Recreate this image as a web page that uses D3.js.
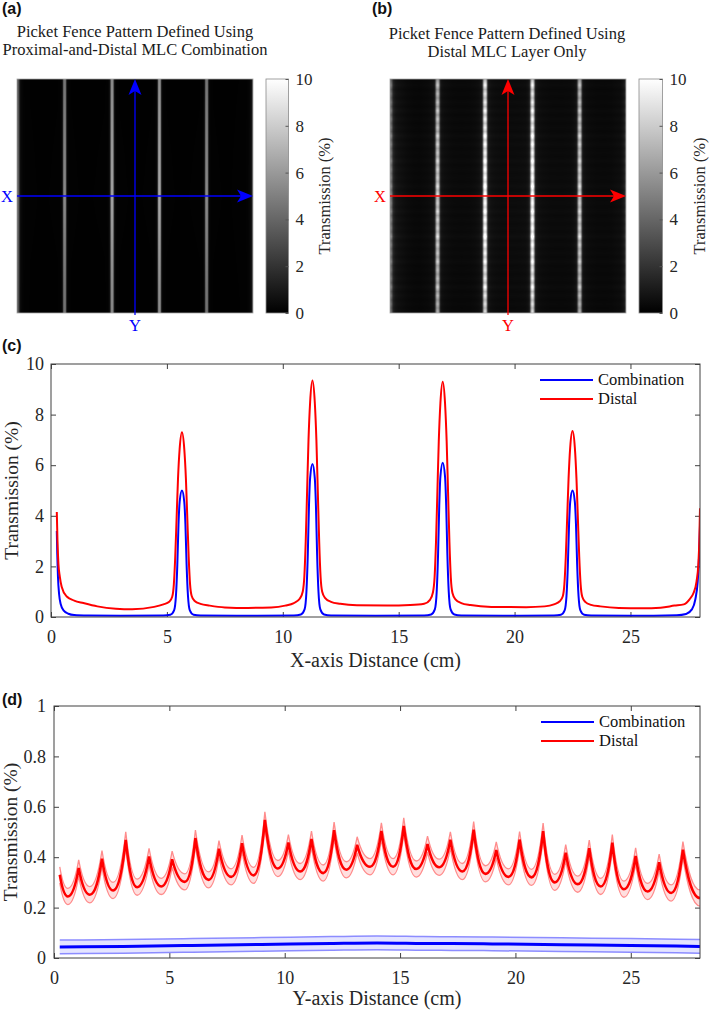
<!DOCTYPE html>
<html><head><meta charset="utf-8">
<script src="https://cdn.jsdelivr.net/npm/d3@7"></script>
<style>
body{margin:0;background:#fff}
svg{display:block}
svg text{font-family:"Liberation Serif","Times New Roman",serif}
svg text.bold{font-family:"Liberation Sans",Arial,sans-serif;font-weight:bold}
</style>
</head><body>
<svg id="chart" width="709" height="1012"></svg>
<script>
// ---------------- DATA ----------------
// (c) X-axis profiles (cm, transmission %)
const combXcm = [0.25,0.27,0.3,0.35,0.42,0.55,0.75,1.0,1.6,3,4.85,
 5.15,5.31,5.39,5.45,5.5,5.55,5.65,5.75,5.8,5.85,5.91,5.99,6.15,6.45,8,10.48,
 10.78,10.94,11.02,11.08,11.13,11.18,11.28,11.38,11.43,11.48,11.54,11.62,11.78,12.08,14,16.1,
 16.4,16.56,16.64,16.7,16.75,16.8,16.9,17.0,17.05,17.1,17.16,17.24,17.4,17.7,19.5,21.7,
 22.0,22.16,22.24,22.3,22.35,22.4,22.5,22.6,22.65,22.7,22.76,22.84,23.0,23.3,25,27.0,27.4,27.65,27.8,27.9,27.96,28.0];
const combXval = [3.4,2.5,1.6,0.9,0.5,0.25,0.13,0.08,0.06,0.05,0.06,
 0.09,0.26,0.83,2.07,3.64,4.55,5.0,4.55,3.64,2.07,0.83,0.26,0.09,0.06,0.05,0.06,
 0.1,0.3,1.0,2.5,4.4,5.5,6.05,5.5,4.4,2.5,1.0,0.3,0.1,0.06,0.05,0.06,
 0.1,0.3,1.0,2.5,4.4,5.55,6.1,5.55,4.4,2.5,1.0,0.3,0.1,0.06,0.05,0.06,
 0.09,0.26,0.83,2.07,3.64,4.55,5.0,4.55,3.64,2.07,0.83,0.26,0.09,0.06,0.05,0.07,0.12,0.3,0.7,1.4,2.4,3.6];
const distXcm = [0.25,0.28,0.32,0.38,0.46,0.68,1.0,1.4,2.0,2.8,3.5,4.45,4.85,
 5.1,5.23,5.3,5.36,5.42,5.48,5.55,5.65,5.75,5.82,5.88,5.94,6.0,6.07,6.2,6.45,6.85,7.5,8.5,9.5,10.1,10.48,
 10.73,10.86,10.93,10.99,11.05,11.11,11.18,11.28,11.38,11.45,11.51,11.57,11.63,11.7,11.83,12.08,12.48,13.2,14.5,15.5,16.1,
 16.35,16.48,16.55,16.61,16.67,16.73,16.8,16.9,17.0,17.07,17.13,17.19,17.25,17.32,17.45,17.7,18.1,19,20.5,21.3,21.7,
 21.95,22.08,22.15,22.21,22.27,22.33,22.4,22.5,22.6,22.67,22.73,22.79,22.85,22.92,23.05,23.3,23.7,24.5,25.5,26.3,26.9,
 27.3,27.55,27.72,27.85,27.93,27.97,28.0];
const distXval = [4.15,3.0,2.1,1.6,1.2,0.81,0.65,0.55,0.42,0.33,0.31,0.4,0.5,
 0.6,0.8,1.29,2.38,3.93,5.48,6.64,7.3,6.64,5.48,3.93,2.38,1.29,0.83,0.63,0.52,0.45,0.38,0.36,0.38,0.45,0.55,
 0.72,1.0,1.6,3.0,5.0,7.0,8.5,9.35,8.5,7.0,5.0,3.0,1.6,1.0,0.75,0.6,0.52,0.46,0.45,0.47,0.52,
 0.68,0.98,1.58,2.95,4.95,6.95,8.45,9.3,8.45,6.95,4.95,2.95,1.55,0.95,0.7,0.55,0.47,0.4,0.39,0.42,0.5,
 0.62,0.82,1.3,2.38,3.93,5.48,6.7,7.35,6.7,5.48,3.93,2.38,1.29,0.8,0.6,0.48,0.42,0.36,0.35,0.37,0.45,
 0.5,0.7,0.95,1.4,2.1,3.0,4.3];

// (d) Y-axis profiles: distal peaks and valleys, combination mean
const distYcm = [0.25,0.6,1.07,1.55,2.08,2.56,3.11,3.6,4.12,4.65,5.12,5.67,6.13,6.7,7.15,7.68,8.15,8.65,9.14,9.7,
 10.16,10.67,11.16,11.67,12.14,12.67,13.14,13.7,14.19,14.7,15.16,15.7,16.19,16.7,17.18,17.7,18.19,18.7,19.17,19.7,
 20.18,20.7,21.2,21.7,22.18,22.7,23.2,23.7,24.2,24.7,25.21,25.73,26.23,26.75,27.26,28];
const distYval = [0.33,0.244,0.357,0.251,0.394,0.268,0.469,0.281,0.403,0.284,0.392,0.302,0.476,0.31,0.434,0.322,0.456,0.328,0.548,0.355,
 0.458,0.343,0.472,0.337,0.507,0.35,0.449,0.362,0.504,0.362,0.524,0.353,0.452,0.36,0.469,0.343,0.509,0.334,0.429,0.322,
 0.47,0.32,0.503,0.3,0.418,0.293,0.436,0.284,0.458,0.273,0.405,0.264,0.38,0.258,0.43,0.238];
const distYspread = 0.032;
const combYcm = [0.25,3,6,9,12,14,16,19,22,25,28];
const combYval = [0.044,0.046,0.05,0.054,0.058,0.06,0.058,0.056,0.053,0.05,0.046];
const combYspread = 0.027;

// ticks / labels
const distTicks = [0,5,10,15,20,25];
const cTicks = [0,2,4,6,8,10];
const dTicks = [0,0.2,0.4,0.6,0.8,1];
const cbTicks = [0,2,4,6,8,10];
const seriesNames = ["Combination","Distal"];
const seriesColors = ["#0000ff","#ff0000"];
const panelTitles = [["Picket Fence Pattern Defined Using","Proximal-and-Distal MLC Combination"],
                     ["Picket Fence Pattern Defined Using","Distal MLC Layer Only"]];

// ---------------- DRAW ----------------
const serif = '"Liberation Serif","Times New Roman",serif';
const txt = "#262626";
const svg = d3.select("#chart");
const defs = svg.append("defs");

// panel letters
[["(a)",2,14],["(b)",372,14],["(c)",2,351],["(d)",2,705]].forEach(([t,x,y])=>{
  svg.append("text").attr("class","bold").attr("x",x).attr("y",y)
    .style("font-size","16px").attr("fill","#111").text(t);
});

const grad = defs.append("linearGradient").attr("id","cbgrad").attr("x1",0).attr("y1",1).attr("x2",0).attr("y2",0);
grad.append("stop").attr("offset","0%").attr("stop-color","#000");
grad.append("stop").attr("offset","100%").attr("stop-color","#fff");

const grayScale = d3.scaleLinear().domain([0,10]).range([0,255]).clamp(true);

function imagePanel(o){
  const xs = d3.scaleLinear().domain([0,28]).range([o.x0,o.x1]);
  const ys = d3.scaleLinear().domain([0,28]).range([o.y1,o.y0]);
  const profX = d3.scaleLinear().domain(o.pxCm).range(o.pxVal).clamp(true);
  const profY = d3.scaleLinear().domain(o.pyCm).range(o.pyVal).clamp(true);
  const meanY = d3.mean(o.pyVal);
  const w = Math.round(o.x1-o.x0), h = Math.round(o.y1-o.y0);
  const cv = document.createElement("canvas"); cv.width=w; cv.height=h;
  const ctx = cv.getContext("2d"); const im = ctx.createImageData(w,h);
  for(let j=0;j<h;j++){
    const ycm = ys.invert(o.y0+j+0.5);
    const r = 1 + 0.6*(profY(ycm)/meanY - 1);
    for(let i=0;i<w;i++){
      const xcm = xs.invert(o.x0+i+0.5);
      const g = Math.round(grayScale(profX(xcm)*r));
      const k=(j*w+i)*4; im.data[k]=g; im.data[k+1]=g; im.data[k+2]=g; im.data[k+3]=255;
    }
  }
  ctx.putImageData(im,0,0);
  svg.append("image").attr("x",o.x0).attr("y",o.y0).attr("width",w).attr("height",h)
    .attr("preserveAspectRatio","none").attr("href",cv.toDataURL());
  svg.append("rect").attr("x",o.x0).attr("y",o.y0).attr("width",w).attr("height",h)
    .attr("fill","none").attr("stroke","#a8a8a8").attr("stroke-width",0.8);
  o.title.forEach((t,i)=>svg.append("text").attr("x",o.titleX).attr("y",o.titleY[i]).attr("text-anchor","middle")
    .style("font-size","16.5px").attr("fill","#1a1a1a").text(t));
  const ax = xs(14), ay = ys(14);
  const g = svg.append("g").attr("fill",o.color).attr("stroke",o.color);
  g.append("line").attr("x1",ax).attr("x2",ax).attr("y1",o.y1+2).attr("y2",o.y0+12).attr("stroke-width",1.3);
  g.append("path").attr("stroke","none").attr("d",`M${ax},${o.y0}L${ax-6.5},${o.y0+16}L${ax},${o.y0+12}L${ax+6.5},${o.y0+16}Z`);
  g.append("line").attr("x1",o.x0).attr("x2",o.x1-12).attr("y1",ay).attr("y2",ay).attr("stroke-width",1.3);
  g.append("path").attr("stroke","none").attr("d",`M${o.x1},${ay}L${o.x1-16},${ay-6.5}L${o.x1-12},${ay}L${o.x1-16},${ay+6.5}Z`);
  svg.append("text").attr("x",o.xLabX).attr("y",ay).attr("dy","0.35em").attr("text-anchor","middle")
    .style("font-size","16.5px").attr("fill",o.color).text("X");
  svg.append("text").attr("x",ax).attr("y",o.y1+18).attr("text-anchor","middle")
    .style("font-size","16.5px").attr("fill",o.color).text("Y");
  const cbs = d3.scaleLinear().domain([0,10]).range([o.y1,o.y0]);
  svg.append("rect").attr("x",o.cbX).attr("y",o.y0).attr("width",o.cbW).attr("height",o.y1-o.y0)
    .attr("fill","url(#cbgrad)").attr("stroke","#8a8a8a").attr("stroke-width",0.8);
  const cbAxis = svg.append("g").attr("transform",`translate(${o.cbX+o.cbW},0)`)
    .call(d3.axisRight(cbs).tickValues(cbTicks).tickSizeInner(-3).tickSizeOuter(0).tickPadding(7));
  cbAxis.attr("font-family",null).attr("font-size",null);
  cbAxis.select(".domain").remove();
  cbAxis.selectAll(".tick line").attr("stroke","#555");
  cbAxis.selectAll("text").style("font-family",serif).style("font-size","17px").attr("fill",txt);
  svg.append("text").attr("transform",`translate(${o.cbLabX},${(o.y0+o.y1)/2}) rotate(-90)`).attr("text-anchor","middle")
    .style("font-size","16.5px").attr("fill",txt).text("Transmission (%)");
}

imagePanel({x0:17,x1:253,y0:79,y1:313,pxCm:combXcm,pxVal:combXval,pyCm:combYcm,pyVal:combYval,
  title:panelTitles[0],titleX:135,titleY:[37,55],color:"#0000ff",xLabX:7,cbX:266,cbW:22.5,cbLabX:330});
imagePanel({x0:390,x1:626,y0:79,y1:313,pxCm:distXcm,pxVal:distXval,pyCm:distYcm,pyVal:distYval,
  title:panelTitles[1],titleX:507,titleY:[38.5,56.5],color:"#ff0000",xLabX:380,cbX:639,cbW:23.5,cbLabX:705});

// custom curve: sharp-topped peaks, rounded valleys
function CuspCurve(ctx){this._context=ctx;}
CuspCurve.prototype={
  areaStart(){this._line=0;}, areaEnd(){this._line=NaN;},
  lineStart(){this._point=0;},
  lineEnd(){ if(this._line||(this._line!==0&&this._point===1)) this._context.closePath(); this._line=1-this._line; },
  point(x,y){ x=+x;y=+y;
    if(this._point===0){ this._point=1; this._line? this._context.lineTo(x,y): this._context.moveTo(x,y); }
    else { const x0=this._x0,y0=this._y0,dx=x-x0;
      if(y0<y) this._context.bezierCurveTo(x0+0.25*dx,y0+0.55*(y-y0),x0+0.55*dx,y,x,y);
      else this._context.bezierCurveTo(x0+0.45*dx,y0,x0+0.75*dx,y+0.55*(y0-y),x,y);
      this._point=2; }
    this._x0=x;this._y0=y; }
};
const curveCusp = ctx=>new CuspCurve(ctx);

function axesBox(o){
  const x = d3.scaleLinear().domain([0,28]).range([o.left,o.right]);
  const y = d3.scaleLinear().domain(o.yDom).range([o.bottom,o.top]);
  const id = "clip"+o.name;
  defs.append("clipPath").attr("id",id).append("rect").attr("x",o.left).attr("y",o.top)
    .attr("width",o.right-o.left).attr("height",o.bottom-o.top);
  const style = (g,labels)=>{ g.attr("font-family",null).attr("font-size",null);
    g.select(".domain").remove(); g.selectAll(".tick line").attr("stroke","#404040");
    g.selectAll("text").style("font-family",serif).style("font-size","18px").attr("fill",txt);
    if(!labels) g.selectAll("text").remove(); };
  svg.append("g").attr("transform",`translate(0,${o.bottom})`).call(d3.axisBottom(x).tickValues(distTicks).tickSizeInner(-5).tickSizeOuter(0).tickPadding(13)).call(g=>style(g,true));
  svg.append("g").attr("transform",`translate(0,${o.top})`).call(d3.axisTop(x).tickValues(distTicks).tickSizeInner(-5).tickSizeOuter(0)).call(g=>style(g,false));
  svg.append("g").attr("transform",`translate(${o.left},0)`).call(d3.axisLeft(y).tickValues(o.yTicks).tickSizeInner(-5).tickSizeOuter(0).tickPadding(o.yPad).tickFormat(d3.format("~g"))).call(g=>style(g,true));
  svg.append("g").attr("transform",`translate(${o.right},0)`).call(d3.axisRight(y).tickValues(o.yTicks).tickSizeInner(-5).tickSizeOuter(0)).call(g=>style(g,false));
  svg.append("text").attr("x",(o.left+o.right)/2).attr("y",o.xLabY).attr("text-anchor","middle")
    .style("font-size","20px").attr("fill",txt).text(o.xLabel);
  svg.append("text").attr("transform",`translate(${o.yLabX},${(o.top+o.bottom)/2}) rotate(-90)`).attr("text-anchor","middle")
    .style("font-size","19.5px").attr("fill",txt).text("Transmission (%)");
  const plot = svg.append("g").attr("clip-path",`url(#${id})`);
  return {x,y,plot,finish(){
    svg.append("rect").attr("x",o.left).attr("y",o.top).attr("width",o.right-o.left).attr("height",o.bottom-o.top)
      .attr("fill","none").attr("stroke","#404040").attr("stroke-width",1);
    seriesNames.forEach((n,i)=>{
      const ly = o.legY[i];
      svg.append("line").attr("x1",o.legX).attr("x2",o.legX+53).attr("y1",ly).attr("y2",ly)
        .attr("stroke",seriesColors[i]).attr("stroke-width",2);
      svg.append("text").attr("x",o.legX+58).attr("y",ly).attr("dy","0.33em")
        .style("font-size","16.5px").attr("fill","#111").text(n);
    });
  }};
}

// (c)
const C = axesBox({name:"c",left:51,right:700,top:364,bottom:617,yDom:[0,10],yTicks:cTicks,yPad:7,
  xLabel:"X-axis Distance (cm)",xLabY:667,yLabX:18,legX:540,legY:[380,399]});
const lc = d3.line().curve(d3.curveMonotoneX);
C.plot.append("path").attr("d",lc(combXcm.map((v,i)=>[C.x(v),C.y(combXval[i])])))
  .attr("fill","none").attr("stroke",seriesColors[0]).attr("stroke-width",2);
C.plot.append("path").attr("d",lc(distXcm.map((v,i)=>[C.x(v),C.y(distXval[i])])))
  .attr("fill","none").attr("stroke",seriesColors[1]).attr("stroke-width",2);
C.finish();

// (d)
const D = axesBox({name:"d",left:54,right:700,top:706,bottom:958,yDom:[0,1],yTicks:dTicks,yPad:8,
  xLabel:"Y-axis Distance (cm)",xLabY:1005,yLabX:17,legX:541,legY:[722,741]});
const combPts = combYcm.map((v,i)=>({x:v,m:combYval[i]}));
D.plot.append("path").attr("d",d3.area().curve(d3.curveMonotoneX).x(d=>D.x(d.x)).y0(d=>D.y(d.m-combYspread)).y1(d=>D.y(d.m+combYspread))(combPts))
  .attr("fill","#c4c4ff").attr("opacity",0.45);
[combYspread,-combYspread].forEach(s=>D.plot.append("path")
  .attr("d",d3.line().curve(d3.curveMonotoneX).x(d=>D.x(d.x)).y(d=>D.y(d.m+s))(combPts))
  .attr("fill","none").attr("stroke","#8c8cff").attr("stroke-width",1.5));
D.plot.append("path").attr("d",d3.line().curve(d3.curveMonotoneX).x(d=>D.x(d.x)).y(d=>D.y(d.m))(combPts))
  .attr("fill","none").attr("stroke",seriesColors[0]).attr("stroke-width",3);
const distPts = distYcm.map((v,i)=>({x:v,m:distYval[i]}));
D.plot.append("path").attr("d",d3.area().curve(curveCusp).x(d=>D.x(d.x)).y0(d=>D.y(d.m-distYspread)).y1(d=>D.y(d.m+distYspread))(distPts))
  .attr("fill","#ffc0c0").attr("opacity",0.5);
[distYspread,-distYspread].forEach(s=>D.plot.append("path")
  .attr("d",d3.line().curve(curveCusp).x(d=>D.x(d.x)).y(d=>D.y(d.m+s))(distPts))
  .attr("fill","none").attr("stroke","#ff8c8c").attr("stroke-width",1.3));
D.plot.append("path").attr("d",d3.line().curve(curveCusp).x(d=>D.x(d.x)).y(d=>D.y(d.m))(distPts))
  .attr("fill","none").attr("stroke",seriesColors[1]).attr("stroke-width",2.6);
D.finish();
</script>
</body></html>
